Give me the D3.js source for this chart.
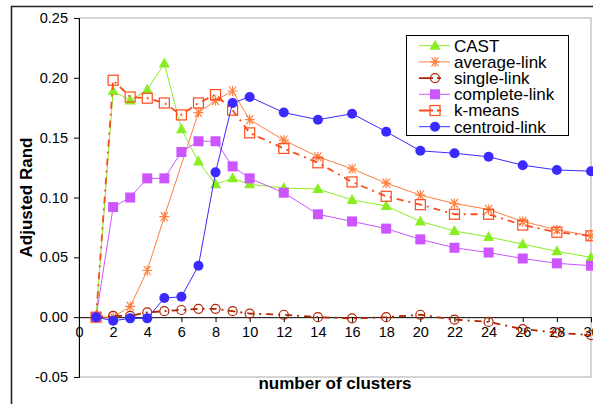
<!DOCTYPE html>
<html>
<head>
<meta charset="utf-8">
<script src="https://cdn.jsdelivr.net/npm/d3@7"></script>
<style>
  body { margin: 0; background: #fff; }
  svg { display: block; font-family: "Liberation Sans", Arial, sans-serif; }
</style>
</head>
<body>
<div id="chart"></div>
<script>
// cluster counts on the x axis
const clusters = [1, 2, 3, 4, 5, 6, 7, 8, 9, 10, 12, 14, 16, 18, 20, 22, 24, 26, 28, 30];

// Adjusted Rand per method (null = no point at that count)
const castVals     = [0, 0.189, 0.181, 0.190, 0.212, 0.157, 0.130, 0.111, 0.116, 0.111, 0.108, 0.107, 0.098, 0.093, 0.080, 0.072, 0.067, 0.061, 0.055, 0.050];
const averageVals  = [0, 0.000, 0.009, 0.039, 0.084, null, 0.171, 0.181, 0.189, 0.165, 0.148, 0.134, 0.124, 0.112, 0.102, 0.095, 0.090, 0.080, 0.073, 0.068];
const singleVals   = [0, 0.001, 0.001, 0.004, 0.005, 0.006, 0.007, 0.007, 0.005, 0.003, 0.002, 0.000, -0.001, 0.000, 0.002, -0.002, -0.004, -0.010, -0.013, -0.015];
const completeVals = [0, 0.092, 0.100, 0.116, 0.116, 0.138, 0.147, 0.147, 0.126, 0.116, 0.104, 0.086, 0.080, 0.074, 0.065, 0.058, 0.054, 0.049, 0.045, 0.043];
const kmeansVals   = [0, 0.198, 0.184, 0.183, 0.179, 0.169, 0.179, 0.186, 0.173, 0.154, 0.141, 0.129, 0.113, 0.101, 0.094, 0.086, 0.086, 0.077, 0.071, 0.068];
const centroidVals = [0, -0.003, -0.001, -0.001, 0.016, 0.017, 0.043, 0.121, 0.179, 0.184, 0.171, 0.165, 0.170, 0.155, 0.139, 0.137, 0.134, 0.127, 0.123, 0.122];

const xTicks = d3.range(0, 31, 2);
const yTicks = [-0.05, 0, 0.05, 0.10, 0.15, 0.20, 0.25];

const series = [
  { name: 'CAST',          values: castVals,     color: '#88ee22', marker: 'triangle', dash: null,        width: 1 },
  { name: 'average-link',  values: averageVals,  color: '#ff7f3f', marker: 'star',     dash: null,        width: 1 },
  { name: 'single-link',   values: singleVals,   color: '#b02400', marker: 'circle',   dash: '7,5,2,5',   width: 1.8 },
  { name: 'complete-link', values: completeVals, color: '#cc55ff', marker: 'square',   dash: null,        width: 1 },
  { name: 'k-means',       values: kmeansVals,   color: '#ff4a1a', marker: 'osquare',  dash: '7,5,2,5',   width: 1.8 },
  { name: 'centroid-link', values: centroidVals, color: '#3a2aff', marker: 'dot',      dash: null,        width: 1 },
];

const W = 593, H = 404;
const plot = { left: 79, right: 591, top: 18, bottom: 377 };

const svg = d3.select('#chart').append('svg')
  .attr('width', W)
  .attr('height', H);

const x = d3.scaleLinear().domain([0, 30]).range([plot.left, plot.right]);
const y = d3.scaleLinear().domain([-0.05, 0.25]).range([plot.bottom, plot.top]);

// outer frame (only top and left fall inside the picture)
svg.append('path')
  .attr('d', `M11.5,${H} V6.5 H${W}`)
  .attr('fill', 'none')
  .attr('stroke', '#222')
  .attr('stroke-width', 1.6);

// plot area frame
svg.append('rect')
  .attr('x', plot.left)
  .attr('y', plot.top)
  .attr('width', plot.right - plot.left)
  .attr('height', plot.bottom - plot.top)
  .attr('fill', 'none')
  .attr('stroke', '#b8b8b8')
  .attr('stroke-width', 1.2);

// y axis
const yAxis = svg.append('g')
  .attr('transform', `translate(${plot.left},0)`)
  .call(d3.axisLeft(y).tickValues(yTicks).tickFormat(d3.format('.2f')).tickSize(5).tickPadding(6));
yAxis.select('.domain').attr('stroke', '#000');
yAxis.selectAll('text').attr('font-size', 14.5).attr('fill', '#000')
  .attr('font-family', '"Liberation Sans", Arial, sans-serif')
  .text(d => d3.format('.2f')(d).replace('−', '-'));

// x axis along the zero line
const xAxis = svg.append('g')
  .attr('transform', `translate(0,${y(0)})`)
  .call(d3.axisBottom(x).tickValues(xTicks).tickFormat(d3.format('d')).tickSize(5).tickPadding(5));
xAxis.select('.domain').attr('stroke', '#000');
xAxis.selectAll('text').attr('font-size', 14.5).attr('fill', '#000')
  .attr('font-family', '"Liberation Sans", Arial, sans-serif');

// axis titles
svg.append('text')
  .attr('x', (plot.left + plot.right) / 2)
  .attr('y', 389)
  .attr('text-anchor', 'middle')
  .attr('font-size', 17)
  .attr('font-weight', 'bold')
  .text('number of clusters');

svg.append('text')
  .attr('transform', `translate(32,${(plot.top + plot.bottom) / 2}) rotate(-90)`)
  .attr('text-anchor', 'middle')
  .attr('font-size', 17)
  .attr('font-weight', 'bold')
  .text('Adjusted Rand');

function drawMarker(g, kind, color) {
  if (kind === 'triangle') {
    g.append('path').attr('d', 'M0,-6 L5.5,4 L-5.5,4 Z').attr('fill', color);
  } else if (kind === 'square') {
    g.append('rect').attr('x', -5).attr('y', -5).attr('width', 10).attr('height', 10).attr('fill', color);
  } else if (kind === 'osquare') {
    g.append('rect').attr('x', -5).attr('y', -5).attr('width', 10).attr('height', 10)
      .attr('fill', 'none').attr('stroke', color).attr('stroke-width', 1.2);
  } else if (kind === 'circle') {
    g.append('circle').attr('r', 4.5).attr('fill', 'none').attr('stroke', color).attr('stroke-width', 1.2);
  } else if (kind === 'dot') {
    g.append('circle').attr('r', 5).attr('fill', color);
  } else if (kind === 'star') {
    g.append('path')
      .attr('d', 'M-5,0 H5 M-3.5,-4.5 L3.5,4.5 M-3.5,4.5 L3.5,-4.5 M0,-5 V5')
      .attr('stroke', color).attr('stroke-width', 1.2).attr('fill', 'none');
  }
}

const line = d3.line().x(d => x(d.k)).y(d => y(d.v));

series.forEach(s => {
  const pts = clusters.map((k, i) => ({ k, v: s.values[i] })).filter(d => d.v !== null);
  const g = svg.append('g');
  g.append('path')
    .attr('d', line(pts))
    .attr('fill', 'none')
    .attr('stroke', s.color)
    .attr('stroke-width', s.width)
    .attr('stroke-dasharray', s.dash);
  pts.forEach(d => {
    drawMarker(g.append('g').attr('transform', `translate(${x(d.k)},${y(d.v)})`), s.marker, s.color);
  });
});

// legend
const legend = svg.append('g');
legend.append('rect')
  .attr('x', 406.5).attr('y', 35.5)
  .attr('width', 162).attr('height', 100)
  .attr('fill', '#fff').attr('stroke', '#000').attr('stroke-width', 1);

series.forEach((s, i) => {
  const cy = 45.7 + i * 16.2;
  const row = legend.append('g');
  row.append('line')
    .attr('x1', 419).attr('x2', 450).attr('y1', cy).attr('y2', cy)
    .attr('stroke', s.color).attr('stroke-width', s.width)
    .attr('stroke-dasharray', s.dash ? '14,4,4' : null);
  drawMarker(row.append('g').attr('transform', `translate(435,${cy})`), s.marker, s.color);
  row.append('text')
    .attr('x', 454).attr('y', cy)
    .attr('dy', '0.35em')
    .attr('font-size', 17)
    .text(s.name);
});
</script>
</body>
</html>
